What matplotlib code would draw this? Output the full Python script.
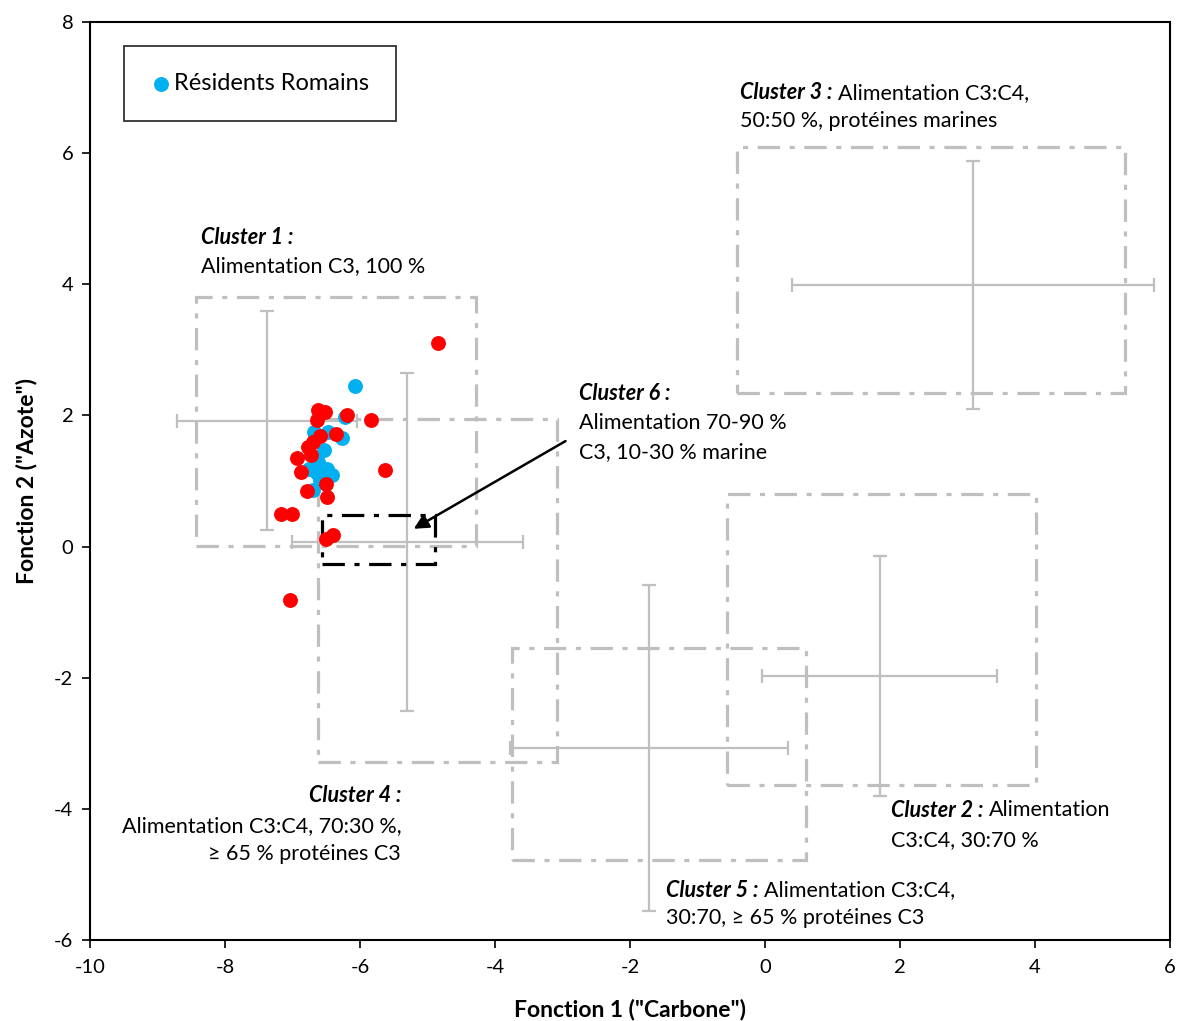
import matplotlib
matplotlib.use("Agg")
import matplotlib.pyplot as plt
from matplotlib.patches import Rectangle

plt.rcParams['font.family'] = ['Lato', 'DejaVu Sans']
plt.rcParams['axes.unicode_minus'] = False

# ---- data ----
blue_x = [-6.08, -6.22, -6.68, -6.47, -6.27, -6.53, -6.76, -6.64, -6.49, -6.42, -6.59, -6.69, -6.62]
blue_y = [2.45, 1.97, 1.74, 1.75, 1.66, 1.47, 1.19, 1.12, 1.19, 1.09, 1.02, 0.86, 1.29]

red_x = [-4.85, -6.62, -6.52, -6.64, -6.20, -5.84, -6.36, -6.59, -6.69, -6.77, -6.72, -6.94,
         -6.87, -5.63, -6.51, -6.79, -6.49, -7.17, -7.01, -6.50, -6.40, -7.03]
red_y = [3.11, 2.08, 2.05, 1.93, 2.00, 1.93, 1.71, 1.68, 1.60, 1.52, 1.39, 1.35,
         1.13, 1.17, 0.95, 0.85, 0.76, 0.49, 0.49, 0.11, 0.18, -0.81]

# cluster centres and error extents (Clusters 1-5)
cl_names = ['Cluster 1', 'Cluster 2', 'Cluster 3', 'Cluster 4', 'Cluster 5']
cl_cx = [-7.38, 1.70, 3.08, -5.30, -1.72]
cl_cy = [1.92, -1.97, 3.99, 0.07, -3.07]
cl_xerr = [1.33, 1.74, 2.68, 1.71, 2.06]
cl_yerr = [1.67, 1.83, 1.89, 2.57, 2.49]
# dash-dot boxes (xmin, xmax, ymin, ymax)
box_xmin = [-8.43, -0.56, -0.41, -6.62, -3.75]
box_xmax = [-4.28, 4.01, 5.33, -3.08, 0.61]
box_ymin = [0.01, -3.64, 2.34, -3.29, -4.78]
box_ymax = [3.80, 0.80, 6.09, 1.95, -1.55]
# cluster 6 box
c6_box = [-6.57, -4.89, -0.27, 0.48]

xticks = [-10, -8, -6, -4, -2, 0, 2, 4, 6]
yticks = [-6, -4, -2, 0, 2, 4, 6, 8]

GREY = '#BFBFBF'

fig = plt.figure(figsize=(11.8, 10.21), dpi=100)
ax = fig.add_axes([90/1180, 81/1021, 1080/1180, 918/1021])
ax.set_xlim(-10, 6)
ax.set_ylim(-6, 8)

dash = (0, (7, 3, 1.6, 3))
for i in range(len(cl_names)):
    ax.add_patch(Rectangle((box_xmin[i], box_ymin[i]), box_xmax[i] - box_xmin[i],
                           box_ymax[i] - box_ymin[i], fill=False, edgecolor=GREY,
                           lw=2.3, linestyle=dash, zorder=1))
    ax.errorbar(cl_cx[i], cl_cy[i], xerr=cl_xerr[i], yerr=cl_yerr[i], fmt='none',
                ecolor=GREY, elinewidth=1.6, capsize=5, capthick=1.6, zorder=2)

ax.add_patch(Rectangle((c6_box[0], c6_box[2]), c6_box[1] - c6_box[0], c6_box[3] - c6_box[2],
                       fill=False, edgecolor='black', lw=2.3, linestyle=dash, zorder=3))

ax.scatter(blue_x, blue_y, s=115, color='#00B0F0', zorder=4, label='Résidents Romains', linewidths=0)
ax.scatter(red_x, red_y, s=115, color='#FF0000', zorder=5, linewidths=0)

ax.annotate('', xy=(-5.24, 0.25), xytext=(-2.92, 1.63),
            arrowprops=dict(arrowstyle='-|>', color='black', lw=1.8, mutation_scale=22), zorder=6)

FS = 15.5


def two_part(x, y, bold, rest, ha='left'):
    t = ax.text(x, y, bold, fontsize=FS, fontweight='bold', fontstyle='italic',
                ha=ha, va='center', zorder=7)
    if rest:
        ax.annotate(rest, xy=(1, 0.5), xycoords=t, xytext=(4, 0), textcoords='offset points',
                    fontsize=FS, ha='left', va='center', zorder=7)
    return t


def line(x, y, s, ha='left'):
    ax.text(x, y, s, fontsize=FS, ha=ha, va='center', zorder=7)


# Cluster 1
two_part(-8.36, 4.72, 'Cluster 1 :', '')
line(-8.36, 4.28, 'Alimentation C3, 100 %')
# Cluster 3
two_part(-0.37, 6.92, 'Cluster 3 :', 'Alimentation C3:C4,')
line(-0.37, 6.49, '50:50 %, protéines marines')
# Cluster 6
two_part(-2.76, 2.33, 'Cluster 6 :', '')
line(-2.76, 1.88, 'Alimentation 70-90 %')
line(-2.76, 1.44, 'C3, 10-30 % marine')
# Cluster 4
two_part(-5.39, -3.80, 'Cluster 4 :', '', ha='right')
line(-5.39, -4.26, 'Alimentation C3:C4, 70:30 %,', ha='right')
line(-5.39, -4.69, '≥ 65 % protéines C3', ha='right')
# Cluster 2
two_part(1.87, -4.02, 'Cluster 2 :', 'Alimentation')
line(1.87, -4.47, 'C3:C4, 30:70 %')
# Cluster 5
two_part(-1.47, -5.24, 'Cluster 5 :', 'Alimentation C3:C4,')
line(-1.47, -5.66, '30:70, ≥ 65 % protéines C3')

ax.set_xticks(xticks)
ax.set_yticks(yticks)
ax.tick_params(direction='out', length=6, width=1.2, labelsize=14.5, color='black')
ax.tick_params(axis='x', pad=8)
ax.tick_params(axis='y', pad=6)
for sp in ax.spines.values():
    sp.set_linewidth(1.5)
    sp.set_color('black')

ax.set_xlabel('Fonction 1 ("Carbone")', fontsize=16.5, fontweight='bold', labelpad=16)
ax.set_ylabel('Fonction 2 ("Azote")', fontsize=16.5, fontweight='bold', labelpad=12)

leg = ax.legend(loc='upper left', bbox_to_anchor=(34/1080, 1 - 24/918), fontsize=17,
                frameon=True, fancybox=False, edgecolor='black', handletextpad=0.15,
                borderpad=1.15, handlelength=0.8, markerscale=1.0, borderaxespad=0)
leg.get_frame().set_linewidth(1.3)

fig.savefig('out.png', dpi=100)
